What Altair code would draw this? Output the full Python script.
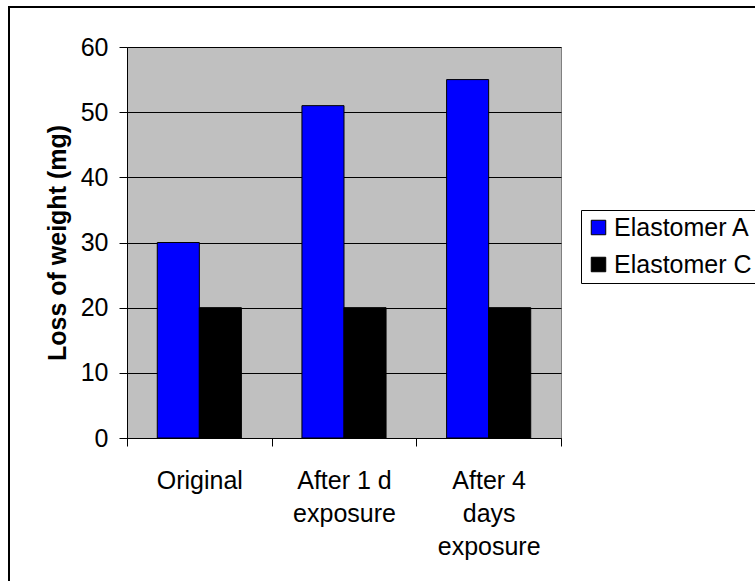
import altair as alt
import pandas as pd

categories = ["Original", "After 1 d|exposure", "After 4|days|exposure"]
series = ["Elastomer A", "Elastomer C"]
elastomer_a = [30, 51, 55]
elastomer_c = [20, 20, 20]
y_ticks = [0, 10, 20, 30, 40, 50, 60]
colors = ["#0000FF", "#000000"]

rows = []
for cat, a, c in zip(categories, elastomer_a, elastomer_c):
    rows.append({"category": cat, "series": series[0], "value": a})
    rows.append({"category": cat, "series": series[1], "value": c})
df = pd.DataFrame(rows)

FONT = "Liberation Sans"

border = alt.Chart(pd.DataFrame({"d": [0]})).mark_rect(
    fill="transparent", stroke="black", strokeWidth=2
).encode(
    x=alt.value(-118), x2=alt.value(700), y=alt.value(-40), y2=alt.value(600)
)

bars = alt.Chart(df).mark_bar(stroke="black", strokeWidth=1).encode(
    x=alt.X(
        "category:N",
        sort=categories,
        scale=alt.Scale(paddingInner=0, paddingOuter=0),
        axis=alt.Axis(
            title=None,
            labelAngle=0,
            labelExpr="split(datum.label, '|')",
            tickBand="extent",
            labelLineHeight=33,
            labelFontSize=25,
            labelFont=FONT,
            labelColor="black",
            tickSize=8,
            tickColor="black",
            labelPadding=22,
            domainColor="black",
            grid=False,
        ),
    ),
    xOffset=alt.XOffset(
        "series:N", sort=series, scale=alt.Scale(paddingInner=0, paddingOuter=0.72)
    ),
    y=alt.Y(
        "value:Q",
        scale=alt.Scale(domain=[0, 60], nice=False),
        axis=alt.Axis(
            values=y_ticks,
            title="Loss of weight (mg)",
            titleFont=FONT,
            titleFontSize=25,
            titleFontWeight="bold",
            titleColor="black",
            titlePadding=10,
            labelFont=FONT,
            labelFontSize=25,
            labelColor="black",
            labelPadding=11,
            tickSize=8,
            tickColor="black",
            domainColor="black",
            gridColor="black",
            gridWidth=1,
        ),
    ),
    color=alt.Color(
        "series:N",
        sort=series,
        scale=alt.Scale(domain=series, range=colors),
        legend=alt.Legend(
            title=None,
            orient="none",
            legendX=454,
            legendY=163,
            strokeColor="black",
            fillColor="white",
            padding=5,
            symbolType="square",
            symbolSize=210,
            symbolStrokeColor="black",
            symbolStrokeWidth=1,
            symbolOpacity=1,
            labelFont=FONT,
            labelFontSize=25,
            labelColor="black",
            labelOffset=3,
            rowPadding=11,
        ),
    ),
)

chart = alt.layer(border, bars).properties(
    width=434,
    height=391,
    autosize=alt.AutoSizeParams(type="none"),
    padding={"left": 127, "top": 47, "right": 194, "bottom": 143},
    background="white",
).configure_view(fill="#C0C0C0", stroke="#808080", strokeWidth=1)

chart.save("out.html", embed_options={"renderer": "svg", "actions": False})
